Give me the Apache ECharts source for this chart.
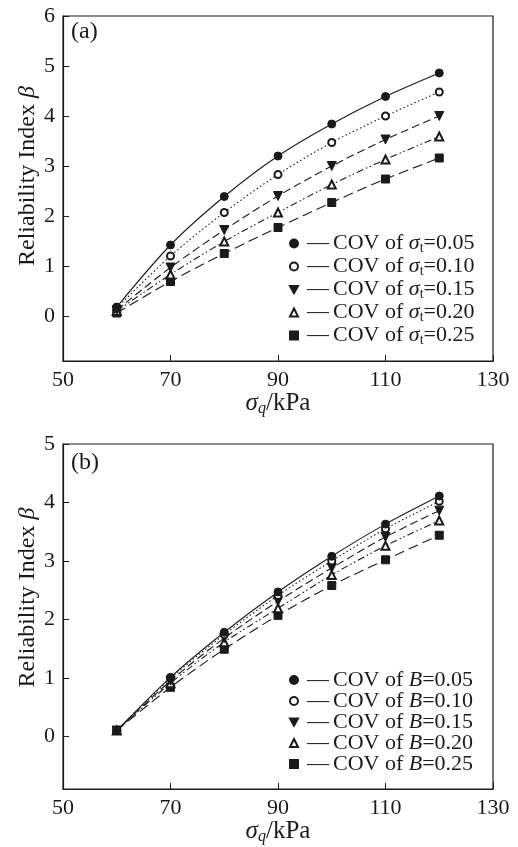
<!DOCTYPE html>
<html>
<head>
<meta charset="utf-8">
<script src="https://cdn.jsdelivr.net/npm/echarts@6/dist/echarts.min.js"></script>
<style>
  html, body { margin: 0; padding: 0; background: #fff; }
  #chart { width: 518px; height: 847px; }
</style>
</head>
<body>
<div id="chart"></div>
<script>
// data
var xStress = [60, 70, 80, 90, 100, 110, 120];
var covLevels = ['0.05', '0.10', '0.15', '0.20', '0.25'];

// (a) COV of sigma_t
var betaT005 = [0.18, 1.42, 2.39, 3.20, 3.84, 4.39, 4.86];
var betaT010 = [0.16, 1.20, 2.07, 2.83, 3.47, 4.00, 4.48];
var betaT015 = [0.12, 0.97, 1.72, 2.40, 3.00, 3.53, 4.00];
var betaT020 = [0.10, 0.83, 1.49, 2.07, 2.63, 3.13, 3.59];
var betaT025 = [0.06, 0.69, 1.25, 1.77, 2.27, 2.74, 3.16];

// (b) COV of B
var betaB005 = [0.10, 1.01, 1.78, 2.47, 3.08, 3.63, 4.11];
var betaB010 = [0.10, 0.99, 1.74, 2.41, 3.00, 3.55, 4.02];
var betaB015 = [0.10, 0.95, 1.68, 2.31, 2.88, 3.41, 3.86];
var betaB020 = [0.10, 0.91, 1.61, 2.19, 2.76, 3.26, 3.69];
var betaB025 = [0.10, 0.84, 1.49, 2.07, 2.58, 3.02, 3.44];

var xTicks = [50, 70, 90, 110, 130];
var yTicksA = [0, 1, 2, 3, 4, 5, 6];
var yTicksB = [0, 1, 2, 3, 4, 5];

var FONT = '"Liberation Serif", "Times New Roman", serif';
var INK = '#1a1a1a';
var triDown = 'path://M0,0 L10,0 L5,9 Z';

var markers = [
  {symbol: 'circle', size: 8},
  {symbol: 'emptyCircle', size: 7},
  {symbol: triDown, size: 9},
  {symbol: 'emptyTriangle', size: 8},
  {symbol: 'rect', size: 8}
];
var dashes = ['solid', [1.5, 2.5], [8, 4], [7, 3, 1.5, 2.5, 1.5, 3], [10, 5]];

var chart = echarts.init(document.getElementById('chart'));

function pair(ys) {
  return xStress.map(function (x, i) { return [x, ys[i]]; });
}

function makeSeries(prefix, sets, idx) {
  return sets.map(function (ys, k) {
    return {
      name: prefix + covLevels[k],
      type: 'line',
      xAxisIndex: idx, yAxisIndex: idx,
      data: pair(ys),
      smooth: 0.3,
      symbol: markers[k].symbol,
      symbolSize: markers[k].size,
      showSymbol: true,
      itemStyle: {color: INK, borderColor: INK, borderWidth: 1},
      lineStyle: {color: INK, width: 1.1, type: dashes[k]},
      z: 10 - k
    };
  });
}

function xAxisOpt(idx) {
  return {
    type: 'value', gridIndex: idx, min: 50, max: 130,
    name: '{si|σ}{sub|q}{n|/kPa}', nameLocation: 'middle', nameGap: 30,
    nameMoveOverlap: false,
    nameTextStyle: {
      fontFamily: FONT, color: INK,
      rich: {
        si: {fontFamily: FONT, fontStyle: 'italic', fontSize: 25, color: INK, lineHeight: 24},
        sub: {fontFamily: FONT, fontStyle: 'italic', fontSize: 16, color: INK, lineHeight: 12, padding: [12, 0, 0, 0]},
        n: {fontFamily: FONT, fontSize: 25, color: INK, lineHeight: 24}
      }
    },
    axisLine: {show: true, onZero: false, lineStyle: {color: INK, width: 1.2}},
    axisTick: {show: true, inside: true, length: 6, customValues: xTicks, lineStyle: {color: INK}},
    axisLabel: {customValues: xTicks, fontFamily: FONT, fontSize: 22, color: INK, margin: 8},
    splitLine: {show: false}
  };
}

function yAxisOpt(idx, max, ticks, lift) {
  return {
    type: 'value', gridIndex: idx, min: -0.9, max: max,
    name: '{n|Reliability Index }{b|β}', nameLocation: 'middle', nameGap: 23,
    nameMoveOverlap: false,
    nameTextStyle: {
      fontFamily: FONT, color: INK, padding: [0, 0, 0, lift],
      rich: {
        n: {fontFamily: FONT, fontSize: 24, color: INK},
        b: {fontFamily: FONT, fontStyle: 'italic', fontSize: 24, color: INK}
      }
    },
    axisLine: {show: true, onZero: false, lineStyle: {color: INK, width: 1.2}},
    axisTick: {show: true, inside: true, length: 6, customValues: ticks, lineStyle: {color: INK}},
    axisLabel: {customValues: ticks, fontFamily: FONT, fontSize: 22, color: INK, margin: 8},
    splitLine: {show: false}
  };
}

function legendOpt(prefix, top, rowGap, fmt) {
  return {
    orient: 'vertical', left: 284, top: top,
    itemWidth: 8, itemHeight: 8, itemGap: rowGap,
    selectedMode: false,
    data: covLevels.map(function (c, k) {
      return {name: prefix + c, icon: markers[k].symbol};
    }),
    formatter: fmt,
    textStyle: {
      fontFamily: FONT, fontSize: 22, color: INK, lineHeight: 18,
      rich: {
        d: {fontFamily: FONT, fontSize: 22, color: INK, lineHeight: 18, padding: [0, 4, 0, 4]},
        t: {fontFamily: FONT, fontSize: 22, color: INK, lineHeight: 18},
        si: {fontFamily: FONT, fontStyle: 'italic', fontSize: 22, color: INK, lineHeight: 18},
        sub: {fontFamily: FONT, fontSize: 14, color: INK, lineHeight: 9, padding: [9, 0, 0, 0]}
      }
    }
  };
}

var seriesA = makeSeries('COV of σt=', [betaT005, betaT010, betaT015, betaT020, betaT025], 0);
var seriesB = makeSeries('COV of B=', [betaB005, betaB010, betaB015, betaB020, betaB025], 1);

chart.setOption({
  backgroundColor: '#fff',
  animation: false,
  title: [
    {text: '(a)', left: 71, top: 20, padding: 0, textStyle: {fontFamily: FONT, fontSize: 24, fontWeight: 'normal', color: INK}},
    {text: '(b)', left: 71, top: 451, padding: 0, textStyle: {fontFamily: FONT, fontSize: 24, fontWeight: 'normal', color: INK}}
  ],
  grid: [
    {left: 63, top: 16, width: 430, height: 345, show: true, borderColor: INK, borderWidth: 1.2},
    {left: 63, top: 444, width: 430, height: 345, show: true, borderColor: INK, borderWidth: 1.2}
  ],
  xAxis: [xAxisOpt(0), xAxisOpt(1)],
  yAxis: [yAxisOpt(0, 6, yTicksA, 25), yAxisOpt(1, 5, yTicksB, 38)],
  legend: [
    legendOpt('COV of σt=', 227, 0, function (name) {
      return '{d|—}{t|COV of }{si|σ}{sub|t}{t|=' + name.split('=')[1] + '}';
    }),
    legendOpt('COV of B=', 664, -1, function (name) {
      return '{d|—}{t|COV of }{si|B}{t|=' + name.split('=')[1] + '}';
    })
  ],
  series: seriesA.concat(seriesB)
});
</script>
</body>
</html>
